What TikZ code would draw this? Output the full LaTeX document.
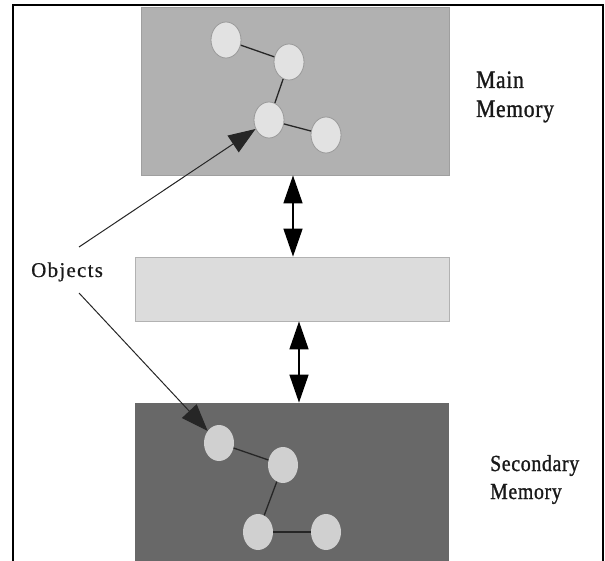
\documentclass[tikz,border=0pt]{standalone}
\usepackage{fontspec}
\usetikzlibrary{arrows.meta,shapes.geometric}
\newfontfamily\memfont[FakeStretch=0.86, LetterSpace=3, FakeBold=1.2]{Liberation Serif}
\newfontfamily\objfont[LetterSpace=6, FakeBold=0.6]{Liberation Serif}
\definecolor{mainfill}{HTML}{B1B1B1}
\definecolor{midfill}{HTML}{DCDCDC}
\definecolor{secfill}{HTML}{686868}
\definecolor{objtop}{HTML}{E2E2E2}
\definecolor{objbot}{HTML}{D0D0D0}
\tikzset{
  membox/.style={rectangle, inner sep=0pt, line width=0.8pt},
  objtopst/.style={ellipse, minimum width=30pt, minimum height=36pt, inner sep=0pt, fill=objtop, draw=gray!80, line width=0.8pt},
  objbotst/.style={ellipse, minimum width=30pt, minimum height=36pt, inner sep=0pt, fill=objbot},
  link/.style={line width=1.3pt, black!85},
  dbl/.style={line width=1.6pt, {Triangle[length=28pt,width=19pt]}-{Triangle[length=28pt,width=19pt]}},
  pointer/.style={line width=1pt, black!85, -{Triangle[length=27pt,width=20pt]}},
  lbl/.style={align=left, inner sep=0pt, anchor=base west, text=black!90}
}
\begin{document}
\begin{tikzpicture}[x=1pt,y=-1pt]
\useasboundingbox (0,0) rectangle (605,561);
% frame (no bottom edge)
\draw[line width=2pt] (13,561) -- (13,5) -- (603,5) -- (603,561);
% memory boxes
\node[membox, fill=mainfill, draw=gray!75, minimum width=308pt, minimum height=168pt] (main) at (295,91) {};
\node[membox, fill=midfill, draw=gray!60, minimum width=314pt, minimum height=64pt] (mid) at (292,289) {};
\node[membox, fill=secfill, minimum width=314pt, minimum height=158pt] (sec) at (292,482) {};
% objects in main memory
\node[objtopst] (c1) at (226,40) {};
\node[objtopst] (c2) at (289,62) {};
\node[objtopst] (c3) at (269,120) {};
\node[objtopst] (c4) at (326,135) {};
\draw[link] (c1) -- (c2);
\draw[link] (c2) -- (c3);
\draw[link] (c3) -- (c4);
% objects in secondary memory
\node[objbotst] (d1) at (219,443) {};
\node[objbotst] (d2) at (283,465) {};
\node[objbotst] (d3) at (258,532) {};
\node[objbotst] (d4) at (326,532) {};
\draw[link] (d1) -- (d2);
\draw[link] (d2) -- (d3);
\draw[link] (d3) -- (d4);
% double arrows
\draw[dbl] ([xshift=-2pt]main.south) -- ([xshift=1pt]mid.north);
\draw[dbl] ([xshift=7pt]mid.south) -- ([xshift=7pt]sec.north);
% labels (base anchor = baseline of last line)
\node[lbl, font=\memfont\fontsize{25}{29}\selectfont] (mainlbl) at (476,117) {Main\\Memory};
\node[lbl, font=\memfont\fontsize{23}{28}\selectfont] (seclbl) at (490,499) {Secondary\\Memory};
\node[lbl, font=\objfont\fontsize{21}{25}\selectfont] (objlbl) at (31,277) {Objects};
\coordinate (o1) at (79,247);
\coordinate (o2) at (79,293);
\draw[pointer] (o1) -- (c3);
\draw[pointer] (o2) -- (d1);
\end{tikzpicture}
\end{document}
